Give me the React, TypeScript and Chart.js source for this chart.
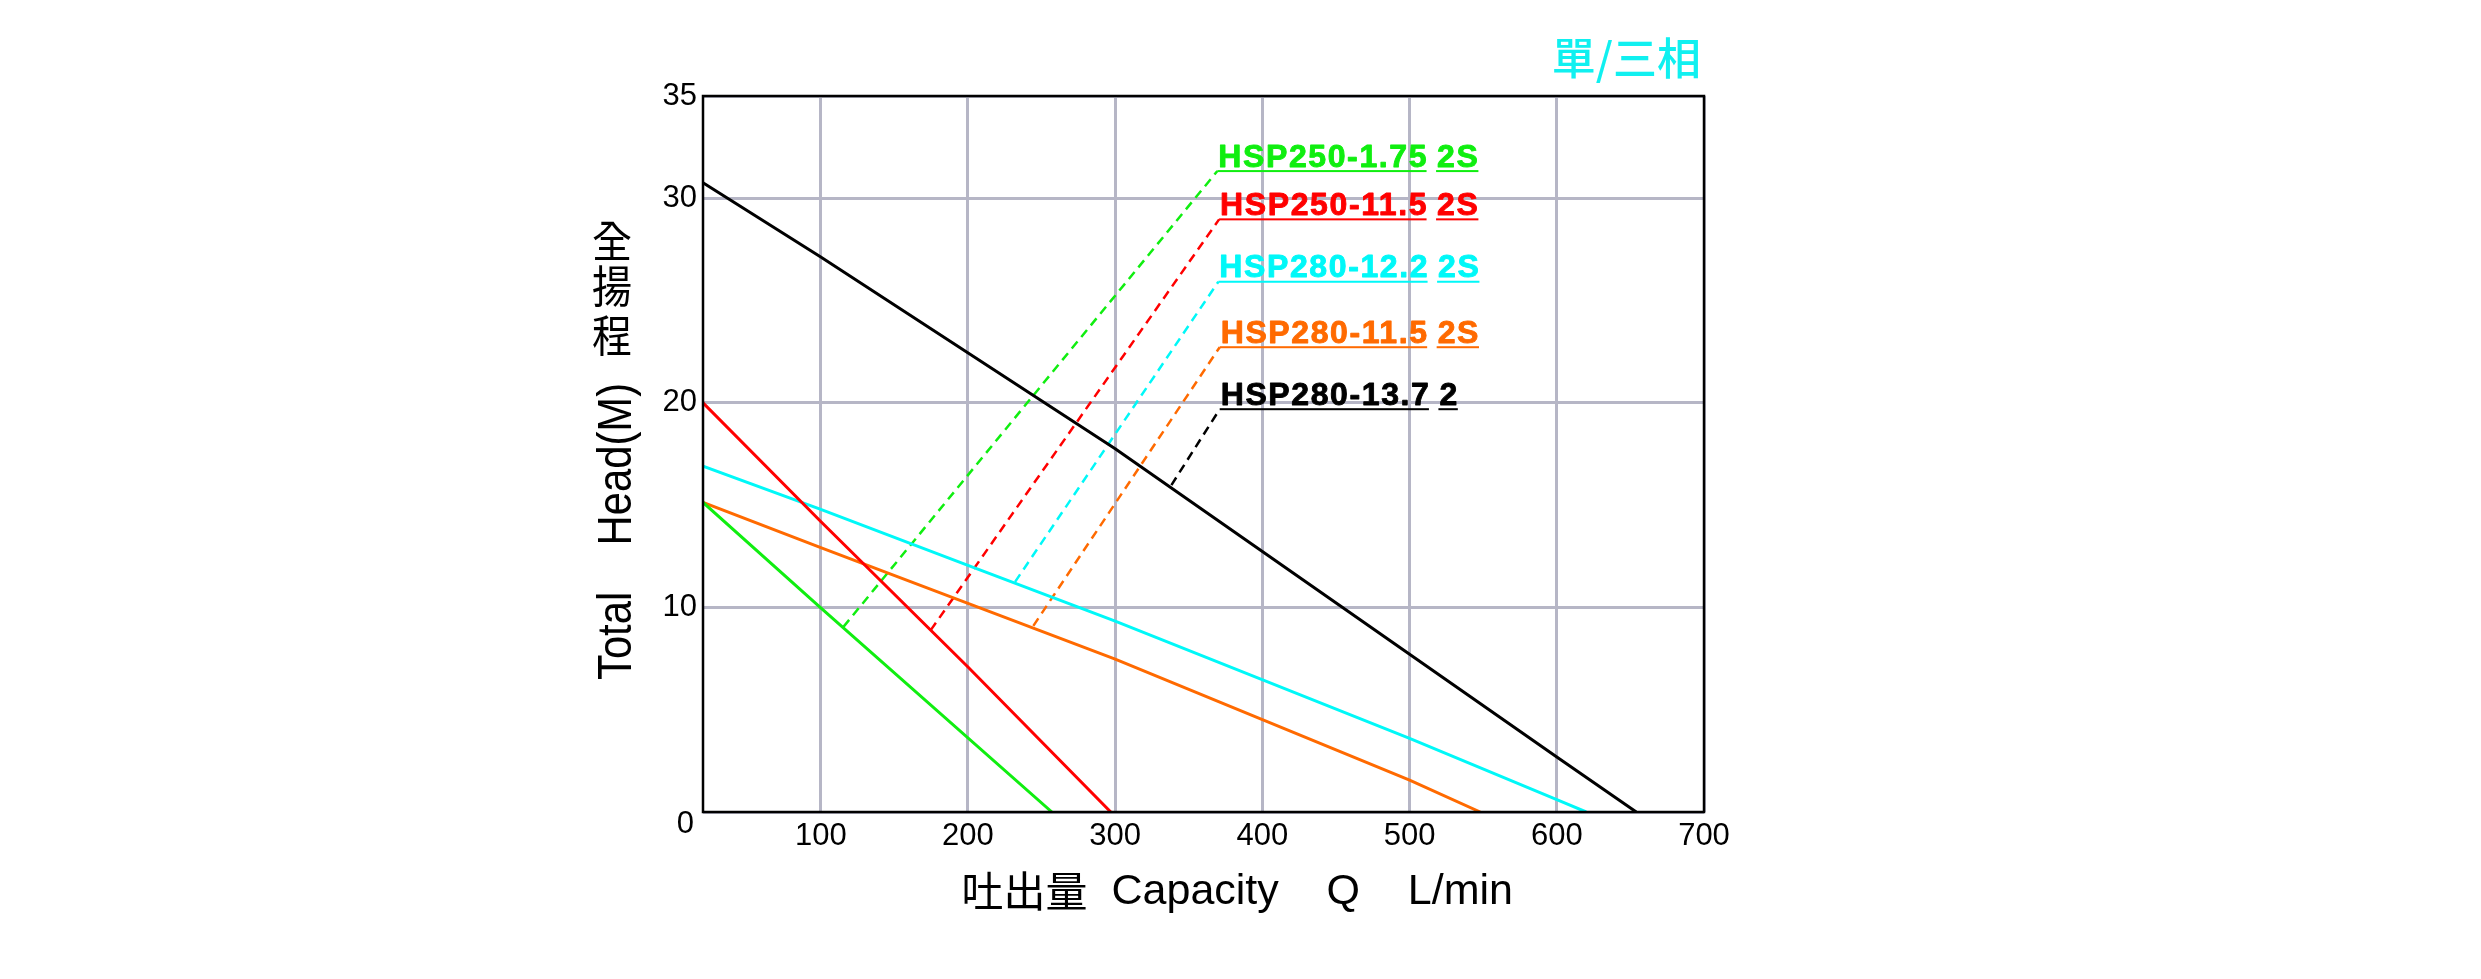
import React, { useEffect, useRef } from "react";
import { Chart, registerables } from "chart.js";

Chart.register(...registerables);

// Axis ticks
const capacityTicks = [100, 200, 300, 400, 500, 600, 700];
const headTicks = [0, 10, 20, 30, 35];

// Pump curves (Capacity L/min -> Total Head m)
const greenQ = [20, 100, 257];
const greenH = [15.13, 9.98, 0];
const redQ = [20, 100, 200, 297];
const redH = [20, 14.2, 7.09, 0];
const cyanQ = [20, 100, 200, 300, 500, 600, 620];
const cyanH = [16.9, 14.79, 12.06, 9.33, 3.6, 0.6, 0];
const orangeQ = [20, 100, 200, 300, 500, 548];
const orangeH = [15.13, 12.92, 10.2, 7.47, 1.56, 0];
const blackQ = [20, 100, 300, 600, 654];
const blackH = [30.76, 27.13, 17.76, 2.69, 0];

// Leader lines from curve to model label
const leaderStartQ = [115.4, 174.7, 232, 244.4, 338.2];
const leaderStartH = [9.05, 8.89, 11.25, 9.1, 15.98];
const leaderEndQ = [369.4, 370.6, 370.1, 371, 371];
const leaderEndH = [31.33, 28.97, 25.92, 22.72, 19.69];

const modelNames = ["HSP250-1.75", "HSP250-11.5", "HSP280-12.2", "HSP280-11.5", "HSP280-13.7"];
const modelSuffix = ["2S", "2S", "2S", "2S", "2"];
const modelColors = ["#10ee10", "#ff0000", "#00f8f8", "#ff6a00", "#000000"];

const curveQ = [greenQ, redQ, cyanQ, orangeQ, blackQ];
const curveH = [greenH, redH, cyanH, orangeH, blackH];

const LATIN = '"Liberation Sans", Arial, sans-serif';
const CJK = '"Noto Sans CJK TC", sans-serif';

const overlayPlugin = {
  id: "overlay",
  afterDraw(chart: any) {
    const { ctx, chartArea: a, scales } = chart;
    const x = scales.x;
    const y = scales.y;
    ctx.save();
    // frame
    ctx.strokeStyle = "#000";
    ctx.lineWidth = 2.5;
    ctx.strokeRect(a.left, a.top, a.right - a.left, a.bottom - a.top);

    // model labels
    ctx.font = `bold 32px ${LATIN}`;
    (ctx as any).letterSpacing = "1.6px";
    ctx.textAlign = "left";
    ctx.textBaseline = "alphabetic";
    ctx.lineWidth = 0.9;
    ctx.lineJoin = "round";
    for (let i = 0; i < modelNames.length; i++) {
      const px = x.getPixelForValue(leaderEndQ[i]);
      const py = y.getPixelForValue(leaderEndH[i]);
      ctx.fillStyle = modelColors[i];
      ctx.strokeStyle = modelColors[i];
      const tx = px + 1;
      ctx.fillText(modelNames[i], tx, py - 4.3);
      ctx.strokeText(modelNames[i], tx, py - 4.3);
      const w = ctx.measureText(modelNames[i]).width;
      ctx.fillRect(px, py - 1, tx + w - px - 1.5, 2);
      const sx = tx + w + 9;
      ctx.fillText(modelSuffix[i], sx, py - 4.3);
      ctx.strokeText(modelSuffix[i], sx, py - 4.3);
      const sw = ctx.measureText(modelSuffix[i]).width;
      ctx.fillRect(sx - 1, py - 1, sw, 2);
    }
    (ctx as any).letterSpacing = "0px";

    // y tick "0" (sits slightly below the axis)
    ctx.fillStyle = "#000";
    ctx.font = `31px ${LATIN}`;
    ctx.textAlign = "right";
    ctx.textBaseline = "middle";
    ctx.fillText("0", a.left - 9, a.bottom + 12);

    // top-right note
    ctx.fillStyle = "#10f0f0";
    ctx.font = `500 44px ${CJK}`;
    ctx.textAlign = "right";
    ctx.textBaseline = "middle";
    ctx.fillText("單/三相", a.right - 3, 58);

    // x-axis title
    const c = (a.left + a.right) / 2;
    ctx.fillStyle = "#000";
    ctx.font = `42px ${CJK}`;
    ctx.textAlign = "left";
    ctx.textBaseline = "middle";
    ctx.fillText("吐出量", c - 242, 891);
    ctx.font = `43px ${LATIN}`;
    ctx.textBaseline = "alphabetic";
    ctx.fillText("Capacity    Q    L/min", c - 92, 904);

    // y-axis title (rotated latin part)
    ctx.save();
    ctx.translate(631, 680);
    ctx.rotate(-Math.PI / 2);
    ctx.scale(0.87, 1);
    ctx.font = `48px ${LATIN}`;
    ctx.textAlign = "left";
    ctx.textBaseline = "alphabetic";
    ctx.fillText("Total    Head(M)", 0, 0);
    ctx.restore();

    // y-axis title (upright CJK part)
    const cjk = ["全", "揚", "程"];
    const centers = [241, 286, 335];
    ctx.font = `40px ${CJK}`;
    ctx.textAlign = "center";
    ctx.textBaseline = "middle";
    for (let i = 0; i < cjk.length; i++) {
      ctx.save();
      ctx.translate(612, centers[i]);
      ctx.scale(1, 1.12);
      ctx.fillText(cjk[i], 0, 0);
      ctx.restore();
    }
    ctx.restore();
  },
};

export default function App() {
  const ref = useRef<HTMLCanvasElement>(null);
  useEffect(() => {
    if (!ref.current) return;
    const datasets: any[] = [];
    for (let i = 0; i < curveQ.length; i++) {
      datasets.push({
        data: curveQ[i].map((q, j) => ({ x: q, y: curveH[i][j] })),
        borderColor: modelColors[i],
        borderWidth: 3,
        pointRadius: 0,
        showLine: true,
        fill: false,
        tension: 0,
      });
    }
    for (let i = 0; i < leaderStartQ.length; i++) {
      datasets.push({
        data: [
          { x: leaderStartQ[i], y: leaderStartH[i] },
          { x: leaderEndQ[i], y: leaderEndH[i] },
        ],
        borderColor: modelColors[i],
        borderWidth: 2.5,
        borderDash: [9, 6],
        pointRadius: 0,
        showLine: true,
        fill: false,
      });
    }
    const chart = new Chart(ref.current, {
      type: "scatter",
      data: { datasets },
      options: {
        animation: false,
        responsive: true,
        maintainAspectRatio: false,
        layout: { padding: { top: 96, right: 777, bottom: 0, left: 0 } },
        plugins: { legend: { display: false }, tooltip: { enabled: false } },
        scales: {
          x: {
            type: "linear",
            min: 20,
            max: 700,
            afterBuildTicks: (s: any) => {
              s.ticks = capacityTicks.map((v) => ({ value: v }));
            },
            afterFit: (s: any) => {
              s.height = 167;
            },
            grid: { color: "#b6b6c6", lineWidth: 3, drawTicks: false },
            border: { display: false },
            ticks: {
              autoSkip: false,
              maxRotation: 0,
              padding: 6,
              color: "#000",
              font: { family: LATIN, size: 31 },
            },
          },
          y: {
            type: "linear",
            min: 0,
            max: 35,
            afterBuildTicks: (s: any) => {
              s.ticks = headTicks.map((v) => ({ value: v }));
            },
            afterFit: (s: any) => {
              s.width = 703;
            },
            grid: { color: "#b6b6c6", lineWidth: 3, drawTicks: false },
            border: { display: false },
            ticks: {
              autoSkip: false,
              padding: 6,
              color: "#000",
              font: { family: LATIN, size: 31 },
              callback: (v: any) => (v === 0 ? "" : String(v)),
            },
          },
        },
      },
      plugins: [overlayPlugin],
    });
    return () => chart.destroy();
  }, []);
  return (
    <div style={{ position: "fixed", left: 0, top: 0, width: 2481, height: 979, background: "#fff" }}>
      <canvas ref={ref} />
    </div>
  );
}
